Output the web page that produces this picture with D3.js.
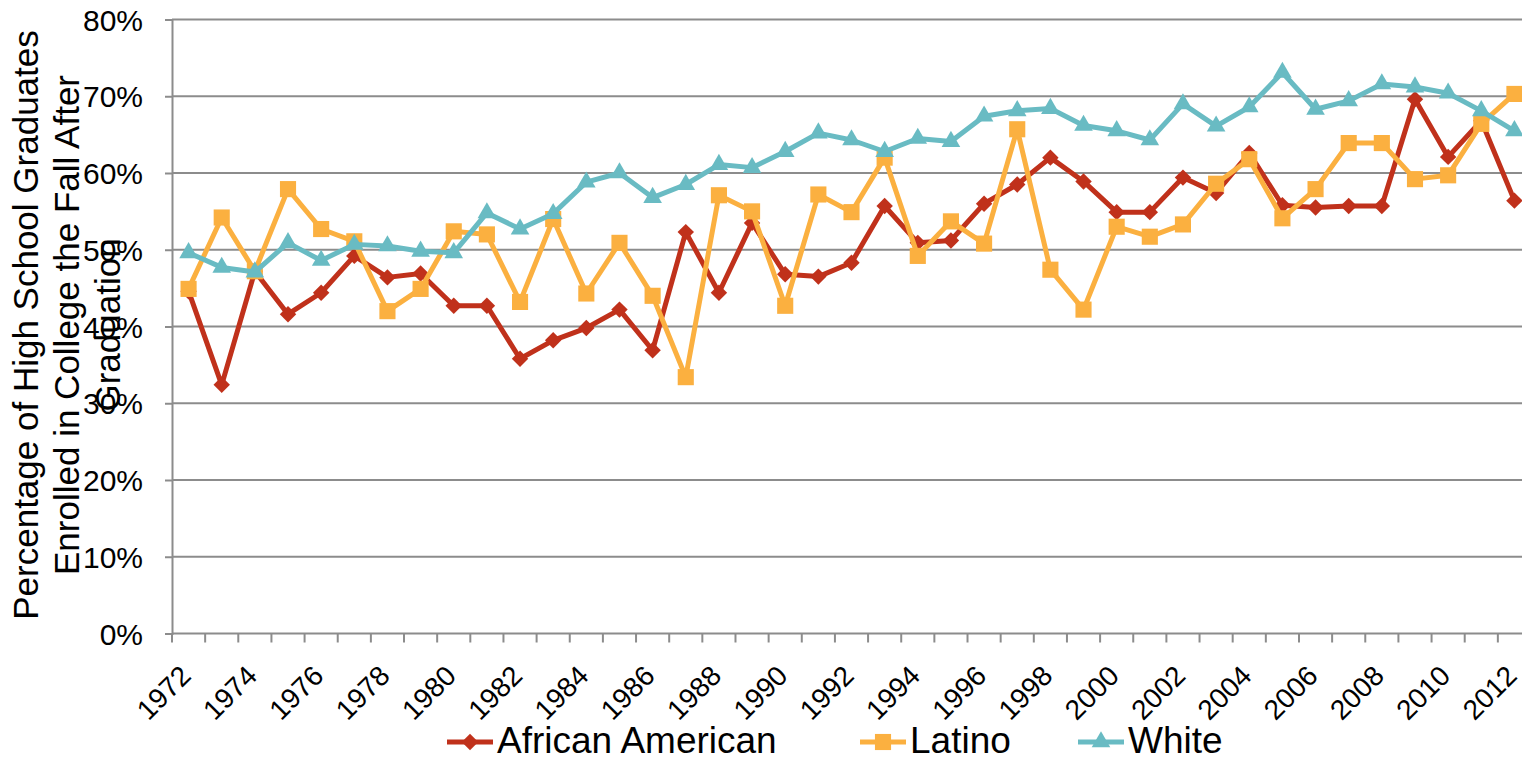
<!DOCTYPE html>
<html>
<head>
<meta charset="utf-8">
<script src="https://cdn.jsdelivr.net/npm/d3@7"></script>
<style>
  html, body { margin: 0; padding: 0; background: #fff; }
  svg { display: block; font-family: "Liberation Sans", Arial, sans-serif; }
</style>
</head>
<body>
<svg id="chart" width="1522" height="763"></svg>
<script>
const years = [1972,1973,1974,1975,1976,1977,1978,1979,1980,1981,1982,1983,1984,1985,1986,1987,1988,1989,1990,1991,1992,1993,1994,1995,1996,1997,1998,1999,2000,2001,2002,2003,2004,2005,2006,2007,2008,2009,2010,2011,2012];

const africanAmerican = [44.6,32.4,47.2,41.6,44.4,49.2,46.4,46.9,42.7,42.7,35.8,38.2,39.8,42.2,36.9,52.3,44.4,53.5,46.8,46.5,48.3,55.7,50.9,51.2,56.0,58.5,62.0,58.9,54.9,54.9,59.4,57.4,62.6,55.8,55.5,55.7,55.7,69.6,62.1,66.8,56.4];

const latino = [44.9,54.2,47.2,57.9,52.7,51.1,42.0,44.9,52.4,52.0,43.2,54.0,44.3,50.9,44.0,33.4,57.1,55.0,42.7,57.2,54.9,62.0,49.2,53.7,50.8,65.7,47.4,42.2,53.0,51.7,53.3,58.6,61.8,54.1,57.9,63.9,63.9,59.2,59.7,66.4,70.3];

const white = [49.6,47.7,47.1,50.9,48.6,50.7,50.5,49.8,49.6,54.8,52.7,54.7,58.8,60.0,56.8,58.5,61.1,60.7,62.8,65.2,64.3,62.8,64.5,64.1,67.4,68.1,68.4,66.2,65.5,64.3,69.0,66.1,68.6,73.1,68.3,69.4,71.6,71.2,70.4,68.1,65.5];

const yTicks = [0,10,20,30,40,50,60,70,80];
const xTickLabels = years.filter((y, i) => i % 2 === 0);

const seriesNames = ["African American", "Latino", "White"];
const seriesColors = ["#C0311B", "#FBB040", "#69BBC3"];
const seriesShapes = ["diamond", "square", "triangle"];
const seriesData = [africanAmerican, latino, white];

const svg = d3.select("#chart");
const plotLeft = 172, plotRight = 1531, plotTop = 19.5, plotBottom = 633.5;

const x = d3.scaleBand().domain(years).range([plotLeft, plotRight]).paddingInner(0).paddingOuter(0);
const y = d3.scaleLinear().domain([0, 80]).range([plotBottom, plotTop]);

// gridlines
svg.append("g").selectAll("line").data(yTicks.filter(d => d > 0)).join("line")
  .attr("x1", plotLeft).attr("x2", 1522)
  .attr("y1", d => y(d)).attr("y2", d => y(d))
  .attr("stroke", "#8c8c8c").attr("stroke-width", 2);

// y axis
const yAxis = svg.append("g").attr("transform", `translate(${plotLeft},0)`)
  .call(d3.axisLeft(y).tickValues(yTicks).tickFormat(d => d + "%").tickSize(7).tickPadding(22));
yAxis.select(".domain").attr("stroke", "#8c8c8c").attr("stroke-width", 2);
yAxis.selectAll(".tick line").attr("stroke", "#8c8c8c").attr("stroke-width", 2);
yAxis.selectAll(".tick text").attr("fill", "#000").style("font-size", "30px")
  .style("font-family", "'Liberation Sans', Arial, sans-serif").attr("dy", "0.35em");

// x axis line
svg.append("line").attr("x1", plotLeft).attr("x2", 1522).attr("y1", plotBottom).attr("y2", plotBottom)
  .attr("stroke", "#8c8c8c").attr("stroke-width", 2);
// x tick marks at category boundaries
const boundaries = years.map(d => x(d)).concat([plotRight]);
svg.append("g").selectAll("line").data(boundaries.filter(b => b <= 1522)).join("line")
  .attr("x1", d => d).attr("x2", d => d)
  .attr("y1", plotBottom).attr("y2", plotBottom + 9)
  .attr("stroke", "#8c8c8c").attr("stroke-width", 2);

// x tick labels
svg.append("g").selectAll("text").data(xTickLabels).join("text")
  .attr("transform", d => `translate(${x(d) + x.bandwidth() / 2 + 4},${plotBottom + 44}) rotate(-45)`)
  .attr("text-anchor", "end")
  .style("font-size", "28px")
  .attr("fill", "#000")
  .text(d => d);

// y axis title
const titleLines = ["Percentage of High School Graduates", "Enrolled in College the Fall After", "Graduation"];
svg.append("g").selectAll("text").data(titleLines).join("text")
  .attr("transform", (d, i) => `translate(${38 + i * 41},325) rotate(-90)`)
  .attr("text-anchor", "middle")
  .style("font-size", "35px")
  .attr("fill", "#000")
  .text(d => d);

// series
function symbolFor(shape, size) {
  if (shape === "triangle") return d3.symbol().type(d3.symbolTriangle).size(size)();
  return d3.symbol().type(d3.symbolSquare).size(size)();
}
const sizes = { diamond: 135, square: 260, triangle: 150 };

const line = d3.line().x((d, i) => x(years[i]) + x.bandwidth() / 2).y(d => y(d));

seriesData.forEach((vals, s) => {
  const g = svg.append("g");
  g.append("path").datum(vals).attr("d", line)
    .attr("fill", "none").attr("stroke", seriesColors[s]).attr("stroke-width", 5)
    .attr("stroke-linejoin", "round");
  const shape = seriesShapes[s];
  g.selectAll("path.m").data(vals).join("path").attr("class", "m")
    .attr("d", symbolFor(shape, sizes[shape]))
    .attr("transform", (d, i) => `translate(${x(years[i]) + x.bandwidth() / 2},${y(d)})` + (shape === "diamond" ? " rotate(45)" : ""))
    .attr("fill", seriesColors[s]);
});

// legend
const legendItems = [
  { x: 447, textX: 497 },
  { x: 860, textX: 910 },
  { x: 1078, textX: 1128 }
];
const lg = svg.append("g");
seriesNames.forEach((name, s) => {
  const it = legendItems[s];
  const ly = 742;
  lg.append("line").attr("x1", it.x).attr("x2", it.x + 46).attr("y1", ly).attr("y2", ly)
    .attr("stroke", seriesColors[s]).attr("stroke-width", 5);
  const shape = seriesShapes[s];
  lg.append("path").attr("d", symbolFor(shape, sizes[shape]))
    .attr("transform", `translate(${it.x + 23},${ly})` + (shape === "diamond" ? " rotate(45)" : ""))
    .attr("fill", seriesColors[s]);
  lg.append("text").attr("x", it.textX).attr("y", ly + 11)
    .style("font-size", "37px").attr("fill", "#000").text(name);
});
</script>
</body>
</html>
